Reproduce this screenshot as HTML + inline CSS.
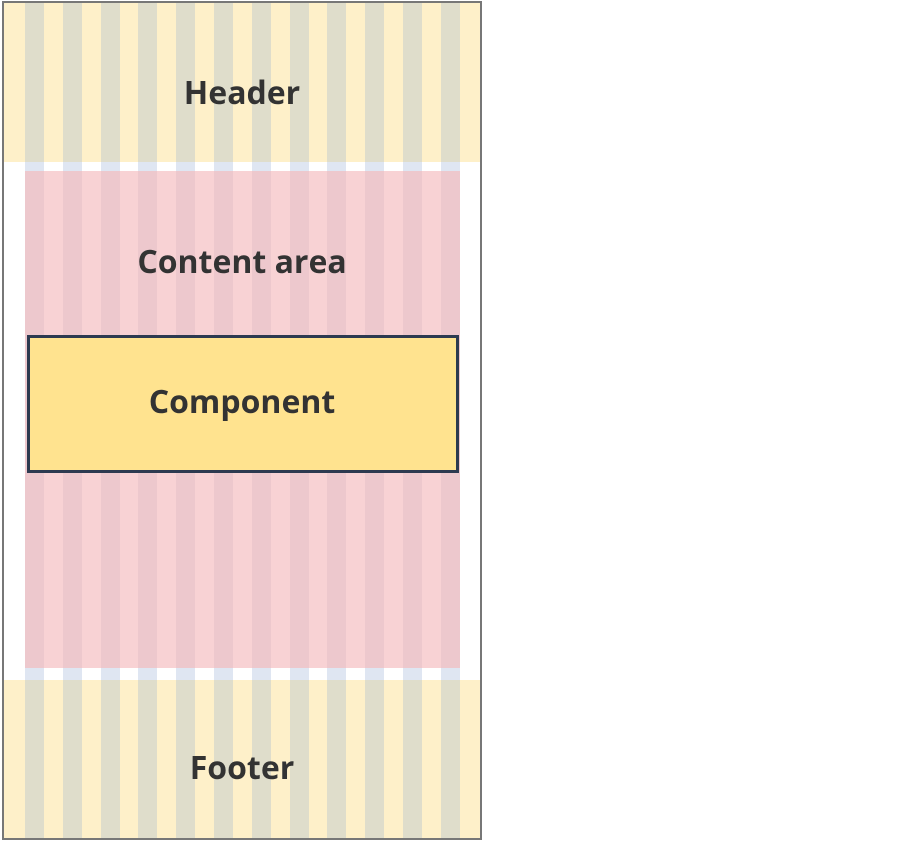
<!DOCTYPE html>
<html><head><style>
body{margin:0;width:901px;height:841px;background:#fff;position:relative;overflow:hidden;font-family:"Open Sans","Liberation Sans",sans-serif;}
.a{position:absolute}
.lbl{position:absolute;left:3px;width:478px;text-align:center;font-weight:bold;font-size:32px;color:#333;}
</style></head><body>
<div class="a" style="left:3px;top:2px;width:478px;height:160px;background:#fef0c9"></div>
<div class="a" style="left:3px;top:680px;width:478px;height:159px;background:#fef0c9"></div>
<div class="a" style="left:25px;top:171px;width:434px;height:497px;background:#f8d2d4"></div>
<div id="s"></div>
<div class="a" style="left:27px;top:335px;width:426px;height:132px;background:#ffe38f;border:3px solid #2d3a50"></div>
<div class="a" style="left:2px;top:1px;width:476px;height:835px;border:2px solid #777"></div>
<div class="lbl" style="top:71px">Header</div>
<div class="lbl" style="top:240px">Content area</div>
<div class="lbl" style="top:380px">Component</div>
<div class="lbl" style="top:746px">Footer</div>
<script>
var h='';for(var i=0;i<12;i++){var x=25+i*37.8;
h+='<div class="a" style="left:'+x+'px;top:2px;width:19px;height:160px;background:#dfddcb"></div>';
h+='<div class="a" style="left:'+x+'px;top:162px;width:19px;height:9px;background:#dfe6f2"></div>';
h+='<div class="a" style="left:'+x+'px;top:171px;width:19px;height:497px;background:#edc8cd"></div>';
h+='<div class="a" style="left:'+x+'px;top:668px;width:19px;height:12px;background:#dfe6f2"></div>';
h+='<div class="a" style="left:'+x+'px;top:680px;width:19px;height:159px;background:#dfddcb"></div>';}
document.getElementById('s').innerHTML=h;
</script>
</body></html>
